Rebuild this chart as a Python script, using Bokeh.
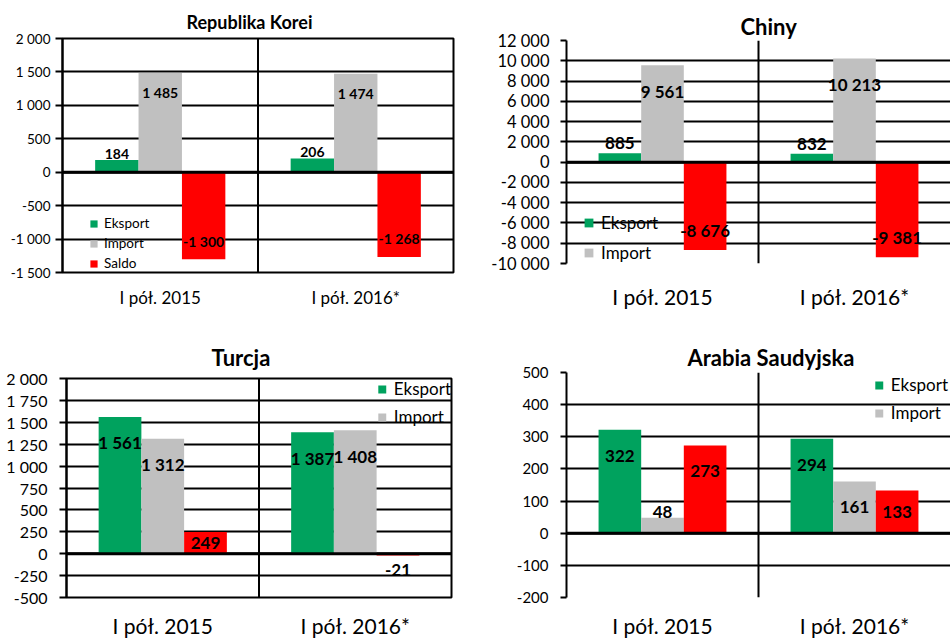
from bokeh.plotting import figure
from bokeh.models import (FactorRange, Range1d, Span, FixedTicker, Legend, LegendItem,
                          ColumnDataSource)
from bokeh.layouts import column, row
from bokeh.transform import dodge
from bokeh.core.properties import value
from bokeh.embed import file_html
from bokeh.resources import INLINE

# ---------------- data ----------------
categories = ["I pół. 2015", "I pół. 2016*"]

korea_title = "Republika Korei"
korea_eksport = [184, 206]
korea_import = [1485, 1474]
korea_saldo = [-1300, -1268]
korea_ticks = [-1500, -1000, -500, 0, 500, 1000, 1500, 2000]
korea_legend = ["Eksport", "Import", "Saldo"]

chiny_title = "Chiny"
chiny_eksport = [885, 832]
chiny_import = [9561, 10213]
chiny_saldo = [-8676, -9381]
chiny_ticks = [-10000, -8000, -6000, -4000, -2000, 0, 2000, 4000, 6000, 8000, 10000, 12000]
chiny_legend = ["Eksport", "Import"]

turcja_title = "Turcja"
turcja_eksport = [1561, 1387]
turcja_import = [1312, 1408]
turcja_saldo = [249, -21]
turcja_ticks = [-500, -250, 0, 250, 500, 750, 1000, 1250, 1500, 1750, 2000]
turcja_legend = ["Eksport", "Import"]

arabia_title = "Arabia Saudyjska"
arabia_eksport = [322, 294]
arabia_import = [48, 161]
arabia_saldo = [273, 133]
arabia_ticks = [-200, -100, 0, 100, 200, 300, 400, 500]
arabia_legend = ["Eksport", "Import"]

# ---------------- style ----------------
GREEN = "#00A25E"
GRAY = "#C0C0C0"
RED = "#FF0000"
FONT = "Lato"
BAR_W = 0.222
BAR_OFF = 0.222


def fmt(v):
    s = f"{abs(v):,}".replace(",", " ")
    return ("-" if v < 0 else "") + s


def panel(title, eks, imp, sal, ticks, legend_names, st):
    fh = st["h"] - st["top"] - st["bottom"]
    ymin, ymax = ticks[0], ticks[-1]
    ppu = fh / (ymax - ymin)
    p = figure(width=st["w"], height=st["h"], title=title,
               x_range=FactorRange(*categories),
               y_range=Range1d(ymin, ymax),
               output_backend="svg", toolbar_location=None,
               min_border_left=st["left"], min_border_right=st["right"],
               min_border_top=st["top"], min_border_bottom=st["bottom"])
    p.frame_align = False
    p.background_fill_color = "white"
    p.border_fill_color = "white"
    p.outline_line_color = "black" if st["outline"] else None
    p.outline_line_width = 2

    # title
    p.title.align = "left"
    p.title.offset = st["title_offset"]
    p.title.text_font = FONT
    p.title.text_font_style = "bold"
    p.title.text_font_size = st["title_fs"]
    p.title.text_color = "black"
    p.title.standoff = st["title_standoff"]

    # grid
    p.xgrid.grid_line_color = None
    p.ygrid.ticker = FixedTicker(ticks=ticks)
    p.ygrid.grid_line_color = "black"
    p.ygrid.grid_line_width = 2

    # y axis
    yax = p.yaxis[0]
    yax.ticker = FixedTicker(ticks=ticks)
    yax.major_label_overrides = {t: fmt(t) for t in ticks}
    yax.axis_line_color = "black"
    yax.axis_line_width = 2
    yax.major_tick_line_color = "black"
    yax.major_tick_line_width = 2
    yax.major_tick_out = st["tick_out"]
    yax.major_tick_in = 0
    yax.minor_tick_line_color = None
    yax.major_label_standoff = st["ystandoff"]
    yax.major_label_text_font = FONT
    yax.major_label_text_font_size = st["ytick_fs"]
    yax.major_label_text_color = "black"

    # x axis
    xax = p.xaxis[0]
    xax.axis_line_color = None
    xax.major_tick_line_color = None
    xax.minor_tick_line_color = None
    xax.major_tick_out = 0
    xax.major_tick_in = 0
    xax.major_label_standoff = st["xstandoff"]
    xax.major_label_text_font = FONT
    xax.major_label_text_font_size = st["xcat_fs"]
    xax.major_label_text_color = "black"

    renderers = []
    for vals, color, off in zip([eks, imp, sal], [GREEN, GRAY, RED], [-BAR_OFF, 0.0, BAR_OFF]):
        ly = []
        for v in vals:
            hpx = abs(v) * ppu
            sgn = 1 if v >= 0 else -1
            inside = st["inside"] if v >= 0 else st["inside_neg"]
            if hpx >= 20:
                d = -sgn * min(inside, hpx / 2)
            else:
                d = sgn * st["outside"]
            ly.append(v + d / ppu)
        src = ColumnDataSource(dict(cat=categories, v=vals, ly=ly, lt=[fmt(v) for v in vals]))
        r = p.vbar(x=dodge("cat", off, range=p.x_range), top="v", width=BAR_W,
                   source=src, fill_color=color, line_color=None)
        renderers.append((r, src, off))

    # zero line and middle separator
    p.add_layout(Span(location=0, dimension="width", line_color="black", line_width=3))
    p.add_layout(Span(location=1, dimension="height", line_color="black", line_width=2))

    for r, src, off in renderers:
        p.text(x=dodge("cat", off, range=p.x_range), y="ly", text="lt", source=src,
               text_font=value(FONT), text_font_style="bold", text_font_size=st["val_fs"],
               text_align="center", text_baseline="middle", text_color="black")

    # legend
    items = [LegendItem(label=name, renderers=[renderers[i][0]])
             for i, name in enumerate(legend_names)]
    leg = Legend(items=items, location=st["leg_loc"], margin=st["leg_margin"], padding=0,
                 spacing=st["leg_spacing"], glyph_width=st["leg_glyph"],
                 glyph_height=st["leg_glyph"], label_standoff=st["leg_standoff"],
                 label_text_font=FONT, label_text_font_size=st["leg_fs"],
                 label_text_color="black", border_line_color=None,
                 background_fill_alpha=0)
    p.add_layout(leg)
    return p


korea_style = dict(w=475, h=320, left=62, right=22, top=38, bottom=48, outline=True,
                   tick_out=7, ystandoff=5, ytick_fs="13.5px", xstandoff=14, xcat_fs="17px",
                   val_fs="14px", inside=20, inside_neg=18, outside=6, title_standoff=12,
                   title_offset=124, title_fs="18px", leg_loc=(27, 1), leg_margin=0,
                   leg_spacing=4, leg_glyph=9, leg_standoff=6, leg_fs="13.5px")
chiny_style = dict(w=475, h=320, left=91, right=0, top=40, bottom=57, outline=False,
                   tick_out=6, ystandoff=11, ytick_fs="16.5px", xstandoff=20, xcat_fs="21px",
                   val_fs="17px", inside=26, inside_neg=20, outside=10, title_standoff=2,
                   title_offset=174, title_fs="22px", leg_loc=(17, 0), leg_margin=0,
                   leg_spacing=9, leg_glyph=11, leg_standoff=7, leg_fs="17px")
turcja_style = dict(w=475, h=320, left=66, right=24, top=58, bottom=43, outline=True,
                    tick_out=7, ystandoff=12, ytick_fs="16px", xstandoff=15, xcat_fs="21px",
                    val_fs="17px", inside=26, inside_neg=20, outside=14, title_standoff=16,
                    title_offset=145, title_fs="22px", leg_loc="top_right", leg_margin=0,
                    leg_spacing=7, leg_glyph=10, leg_standoff=7, leg_fs="17px")
arabia_style = dict(w=475, h=320, left=91, right=0, top=52, bottom=43, outline=False,
                    tick_out=6, ystandoff=12, ytick_fs="15px", xstandoff=15, xcat_fs="21px",
                    val_fs="17px", inside=26, inside_neg=20, outside=6, title_standoff=4,
                    title_offset=121, title_fs="22px", leg_loc="top_right", leg_margin=2,
                    leg_spacing=7, leg_glyph=10, leg_standoff=7, leg_fs="17px")

p1 = panel(korea_title, korea_eksport, korea_import, korea_saldo, korea_ticks, korea_legend, korea_style)
p2 = panel(chiny_title, chiny_eksport, chiny_import, chiny_saldo, chiny_ticks, chiny_legend, chiny_style)
p3 = panel(turcja_title, turcja_eksport, turcja_import, turcja_saldo, turcja_ticks, turcja_legend, turcja_style)
p4 = panel(arabia_title, arabia_eksport, arabia_import, arabia_saldo, arabia_ticks, arabia_legend, arabia_style)

layout = column(row(p1, p2), row(p3, p4))

open("out.html", "w").write(file_html(layout, INLINE))
